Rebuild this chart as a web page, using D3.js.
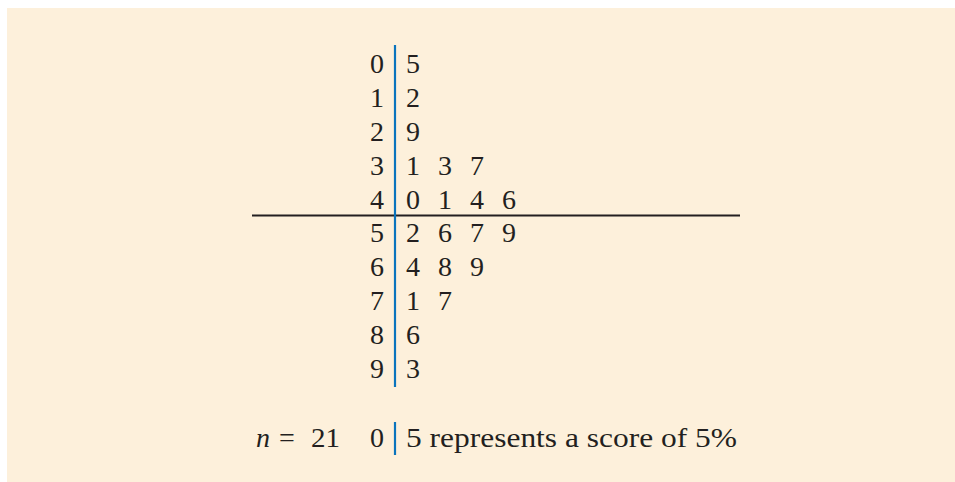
<!DOCTYPE html>
<html>
<head>
<meta charset="utf-8">
<script src="https://cdn.jsdelivr.net/npm/d3@7/dist/d3.min.js"></script>
<style>
  html, body { margin: 0; padding: 0; background: #ffffff; }
  svg { display: block; }
  svg text { font-family: "Liberation Serif", "Times New Roman", serif; }
</style>
</head>
<body>
<svg id="chart" width="955" height="482"></svg>
<script>
// Stem-and-leaf data: test scores (%)
const stems = [0, 1, 2, 3, 4, 5, 6, 7, 8, 9];
const leaves = [
  [5],
  [2],
  [9],
  [1, 3, 7],
  [0, 1, 4, 6],
  [2, 6, 7, 9],
  [4, 8, 9],
  [1, 7],
  [6],
  [3]
];
const splitAfterStem = 4;          // horizontal divider drawn below this stem
const nCount = 21;
const keyStem = 0, keyLeaf = 5;
const keyText = " represents a score of 5%";

const W = 955, H = 482;
const svg = d3.select("#chart");
const ink = "#231f20";
const blue = "#0a74bd";
const fs = 28;

// panel background
svg.append("rect")
  .attr("x", 7).attr("y", 8)
  .attr("width", W - 7).attr("height", H - 8)
  .attr("fill", "#fdf0db");

// row baselines
const y = d3.scalePoint().domain(stems).range([73, 378]);
// leaf columns
const maxLeaves = d3.max(leaves, d => d.length);
const x = d3.scaleLinear().domain([0, maxLeaves - 1]).range([406, 502]);
const stemRight = 384;
const divX = 395;

const g = svg.append("g")
  .attr("font-size", fs)
  .attr("fill", ink);

// stems
g.selectAll("text.stem")
  .data(stems)
  .join("text")
  .attr("class", "stem")
  .attr("x", stemRight)
  .attr("y", d => y(d))
  .attr("text-anchor", "end")
  .text(d => d);

// leaves
const leafData = stems.flatMap((s, i) => leaves[i].map((l, j) => ({ s, l, j })));
g.selectAll("text.leaf")
  .data(leafData)
  .join("text")
  .attr("class", "leaf")
  .attr("x", d => x(d.j))
  .attr("y", d => y(d.s))
  .text(d => d.l);

// horizontal divider below the split stem
const hy = y(splitAfterStem) + 7;
svg.append("line")
  .attr("x1", 252).attr("x2", 740)
  .attr("y1", hy).attr("y2", hy)
  .attr("stroke", ink).attr("stroke-width", 2);

// vertical stem/leaf divider
svg.append("line")
  .attr("x1", divX).attr("x2", divX)
  .attr("y1", y(stems[0]) - 28).attr("y2", y(stems[stems.length - 1]) + 9)
  .attr("stroke", blue).attr("stroke-width", 2.2);

// key line
const keyY = 447;
const k = svg.append("g")
  .attr("font-size", fs)
  .attr("fill", ink);

k.append("text").attr("x", 256).attr("y", keyY)
  .attr("font-style", "italic").text("n");
k.append("text").attr("x", 287).attr("y", keyY)
  .attr("text-anchor", "middle").text("=");
k.append("text").attr("x", 311).attr("y", keyY)
  .attr("textLength", 29).attr("lengthAdjust", "spacingAndGlyphs")
  .text(nCount);

k.append("text")
  .attr("x", stemRight).attr("y", keyY)
  .attr("text-anchor", "end")
  .text(keyStem);

k.append("text")
  .attr("x", x(0)).attr("y", keyY)
  .attr("textLength", 331)
  .attr("lengthAdjust", "spacingAndGlyphs")
  .text(keyLeaf + keyText);

svg.append("line")
  .attr("x1", divX).attr("x2", divX)
  .attr("y1", keyY - 25).attr("y2", keyY + 8)
  .attr("stroke", blue).attr("stroke-width", 2.2);
</script>
</body>
</html>
